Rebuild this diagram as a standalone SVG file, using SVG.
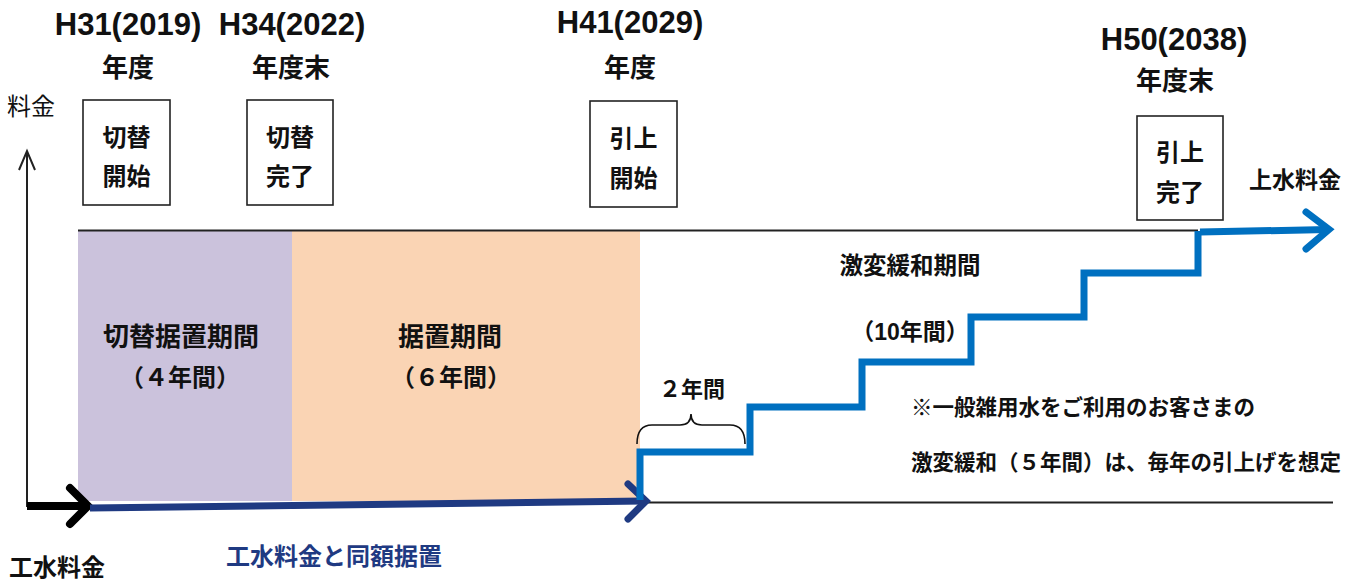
<svg xmlns="http://www.w3.org/2000/svg" width="1348" height="579" viewBox="0 0 1348 579">
<style>
text{font-family:"Liberation Sans","Noto Sans CJK JP",sans-serif;font-weight:700;fill:#111;text-anchor:middle}
.yr{font-size:31px}
.h{font-size:26px}
.bx{font-size:24px}
.box{fill:#fff;stroke:#222;stroke-width:1.6}
.thin{stroke:#222;stroke-width:2;fill:none}
.blue{stroke:#0070C0;stroke-width:7;fill:none}
.navy{stroke:#1F3A82;stroke-width:7;fill:none}
.note{font-size:21.5px;text-anchor:start}
</style>
<rect width="1348" height="579" fill="#fff"/>
<g id="periods">
<rect x="78" y="231" width="214" height="270" fill="#CBC2DC"/>
<rect x="292" y="231" width="348" height="270" fill="#FAD4B4"/>
<text class="h" x="181" y="346">切替据置期間</text>
<text x="180" y="386" style="font-size:24px">（４年間）</text>
<text class="h" x="450" y="346">据置期間</text>
<text x="451" y="386" style="font-size:24px">（６年間）</text>
</g>
<g id="headers">
<text class="yr" x="128" y="35">H31(2019)</text>
<text class="h" x="128" y="77">年度</text>
<text class="yr" x="292" y="35">H34(2022)</text>
<text class="h" x="291" y="77">年度末</text>
<text class="yr" x="630" y="33">H41(2029)</text>
<text class="h" x="630" y="77">年度</text>
<text class="yr" x="1174" y="50">H50(2038)</text>
<text class="h" x="1175" y="90">年度末</text>
</g>
<g id="axis">
<text x="31" y="115" style="font-size:24px;font-weight:400">料金</text>
<path class="thin" d="M27,507 V151 M19,170 L27,151 L35,170" stroke-width="1.6"/>
</g>
<g id="box1"><rect class="box" x="83" y="100" width="87" height="105"/><text class="bx" x="126.5" y="146">切替</text><text class="bx" x="126.5" y="185">開始</text></g>
<g id="box2"><rect class="box" x="247" y="100" width="86" height="105"/><text class="bx" x="290" y="146">切替</text><text class="bx" x="290" y="185">完了</text></g>
<g id="box3"><rect class="box" x="590" y="101" width="87" height="106"/><text class="bx" x="633.5" y="147">引上</text><text class="bx" x="633.5" y="187">開始</text></g>
<g id="box4"><rect class="box" x="1137" y="116" width="86" height="104"/><text class="bx" x="1180" y="161">引上</text><text class="bx" x="1180" y="201">完了</text></g>
<g id="connectors">
<path class="thin" d="M78,230.5 H1198"/>
<path class="thin" d="M640,502.5 H1333"/>
<path d="M27,506 H86" stroke="#000" stroke-width="8" fill="none"/>
<path d="M70,488 L88,506 L70,524" stroke="#000" stroke-width="8" fill="none" stroke-linecap="round"/>
<path class="navy" d="M90,508 L644,501"/>
<path class="navy" d="M628,484 L646,501 L628,519" stroke-linecap="round"/>
<path class="blue" d="M640,500 V452 H750 V407 H862 V362 H971 V317 H1084 V273 H1198 V231"/>
<path class="blue" d="M1200,232 L1328,229.5"/>
<path class="blue" d="M1306,212 L1329,229.5 L1306,249" stroke-width="8" stroke-linecap="round"/>
<path d="M637,444 Q637,425 652,425 H680 Q691,425 691,414 Q691,425 702,425 H730 Q745,425 745,444" fill="none" stroke="#111" stroke-width="1.6"/>
</g>
<g id="labels">
<text x="1295" y="188" style="font-size:23px">上水料金</text>
<text x="910" y="274" style="font-size:23.5px">激変緩和期間</text>
<text x="910" y="340" style="font-size:23px">（10年間）</text>
<text x="692" y="397" style="font-size:22px">２年間</text>
<text class="note" x="911" y="415">※一般雑用水をご利用のお客さまの</text>
<text class="note" x="911" y="470">激変緩和（５年間）は、毎年の引上げを想定</text>
<text x="57" y="576" style="font-size:24px">工水料金</text>
<text x="334" y="565" style="font-size:24px;fill:#1F3A82">工水料金と同額据置</text>
</g>
</svg>
